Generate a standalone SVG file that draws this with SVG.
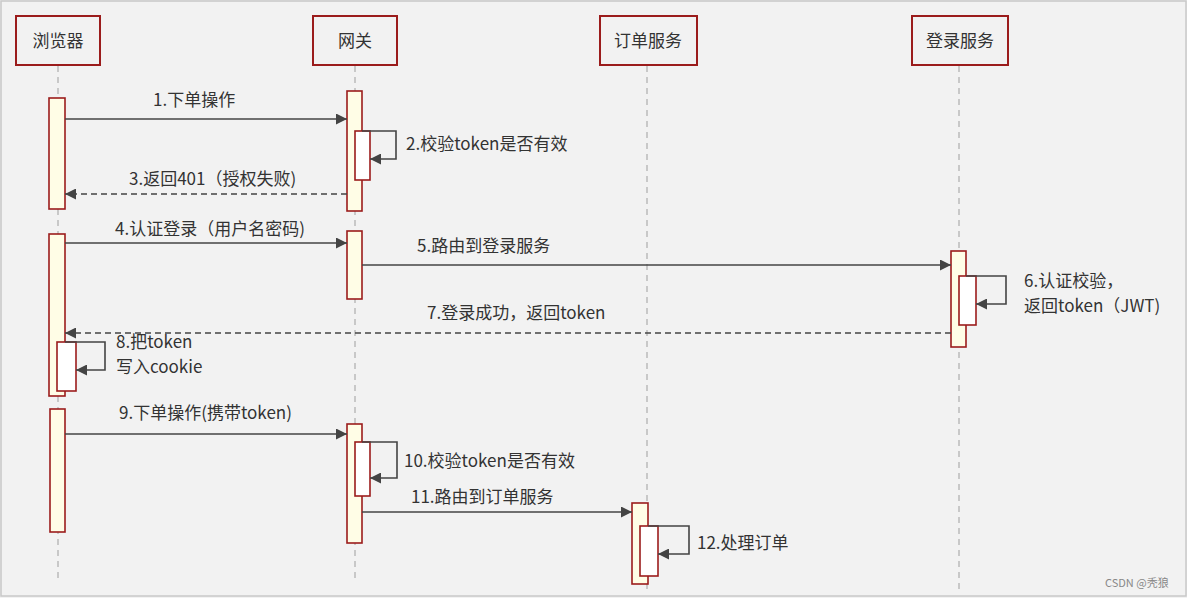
<svg xmlns="http://www.w3.org/2000/svg" width="1187" height="598" viewBox="0 0 1187 598">
<defs>
<marker id="ah" viewBox="0 0 10 10" refX="10" refY="5" markerWidth="11" markerHeight="11" markerUnits="userSpaceOnUse" orient="auto">
<path d="M0,0 L10,5 L0,10 z" fill="#444"/>
</marker>
</defs>
<style>
.hdr{fill:#f2f2f2;stroke:#9b1c1c;stroke-width:2}
.life{stroke:#bbb;stroke-width:1.5;stroke-dasharray:6,5;fill:none}
.act{fill:#fffde6;stroke:#9b1c1c;stroke-width:1.6}
.self{fill:#fff;stroke:#9b1c1c;stroke-width:1.6}
.msg{stroke:#444;stroke-width:1.6;fill:none;marker-end:url(#ah)}
.ret{stroke:#444;stroke-width:1.6;fill:none;stroke-dasharray:6,4;marker-end:url(#ah)}
text{font-family:"Noto Sans CJK SC","Noto Sans",sans-serif;font-size:17px;fill:#333}
.ht{font-size:17px;text-anchor:middle}
</style>
<rect x="0" y="0" width="1187" height="598" fill="#f2f2f2"/>
<rect x="1" y="1" width="1185" height="595" fill="none" stroke="#c8c8c8" stroke-width="1.5"/>
<g id="lifelines">
<line class="life" x1="58" y1="66" x2="58" y2="582"/>
<line class="life" x1="355" y1="66" x2="355" y2="582"/>
<line class="life" x1="647" y1="66" x2="647" y2="590"/>
<line class="life" x1="959" y1="66" x2="959" y2="590"/>
</g>
<g id="browser"><rect class="hdr" x="16" y="16" width="84" height="49"/><text class="ht" x="58" y="47">浏览器</text></g>
<g id="gateway"><rect class="hdr" x="313" y="16" width="84" height="49"/><text class="ht" x="355" y="47">网关</text></g>
<g id="order"><rect class="hdr" x="600" y="16" width="97" height="49"/><text class="ht" x="648" y="47">订单服务</text></g>
<g id="login"><rect class="hdr" x="912" y="16" width="96" height="49"/><text class="ht" x="960" y="47">登录服务</text></g>
<g id="activations">
<rect class="act" x="49" y="98" width="16" height="111"/>
<rect class="act" x="49" y="234" width="16" height="162"/>
<rect class="self" x="57" y="342" width="19" height="49"/>
<rect class="act" x="50" y="409" width="15" height="123"/>
<rect class="act" x="347" y="91" width="15" height="120"/>
<rect class="self" x="355" y="131" width="15" height="49"/>
<rect class="act" x="347" y="231" width="15" height="68"/>
<rect class="act" x="347" y="424" width="15" height="119"/>
<rect class="self" x="355" y="442" width="15" height="54"/>
<rect class="act" x="951" y="251" width="15" height="96"/>
<rect class="self" x="959" y="276" width="17" height="49"/>
<rect class="act" x="632" y="503" width="16" height="81"/>
<rect class="self" x="640" y="526" width="18" height="50"/>
</g>
<g id="connectors">
<line class="msg" x1="65" y1="119" x2="347" y2="119"/>
<polyline class="msg" points="362,131 396,131 396,159 370,159"/>
<line class="ret" x1="347" y1="194" x2="65" y2="194"/>
<line class="msg" x1="65" y1="243" x2="347" y2="243"/>
<line class="msg" x1="362" y1="265" x2="951" y2="265"/>
<polyline class="msg" points="966,276 1006,276 1006,304 976,304"/>
<line class="ret" x1="951" y1="333" x2="65" y2="333"/>
<polyline class="msg" points="65,342 105,342 105,370 76,370"/>
<line class="msg" x1="65" y1="434" x2="347" y2="434"/>
<polyline class="msg" points="362,442 397,442 397,478 370,478"/>
<line class="msg" x1="362" y1="512" x2="632" y2="512"/>
<polyline class="msg" points="648,526 689,526 689,554 658,554"/>
</g>
<g id="labels">
<text x="153" y="106">1.下单操作</text>
<text x="406" y="150">2.校验token是否有效</text>
<text x="129" y="185">3.返回401（授权失败)</text>
<text x="115" y="235">4.认证登录（用户名密码)</text>
<text x="417" y="252">5.路由到登录服务</text>
<text x="1024" y="287">6.认证校验，</text>
<text x="1024" y="312">返回token（JWT)</text>
<text x="427" y="319">7.登录成功，返回token</text>
<text x="116" y="348">8.把token</text>
<text x="116" y="373">写入cookie</text>
<text x="119" y="419">9.下单操作(携带token)</text>
<text x="404" y="467">10.校验token是否有效</text>
<text x="411" y="503">11.路由到订单服务</text>
<text x="697" y="549">12.处理订单</text>
<text x="1105" y="587" style="font-size:11px;fill:#888">CSDN @秃狼</text>
</g>
</svg>
